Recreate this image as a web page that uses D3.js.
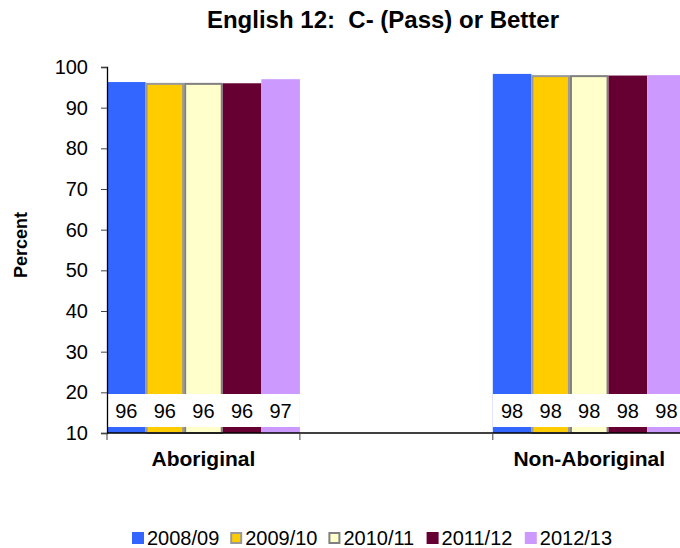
<!DOCTYPE html>
<html>
<head>
<meta charset="utf-8">
<script src="https://cdn.jsdelivr.net/npm/d3@7"></script>
<style>
  html, body { margin: 0; padding: 0; background: #fff; }
  svg { display: block; font-family: Arial, "Liberation Sans", sans-serif; }
</style>
</head>
<body>
<svg id="chart" width="680" height="548"></svg>
<script>
const categories = ["Aboriginal", "Non-Aboriginal"];
const seriesNames = ["2008/09", "2009/10", "2010/11", "2011/12", "2012/13"];
const aboriginalValues = [96.3, 96.1, 96.1, 96.0, 97.0];
const nonAboriginalValues = [98.3, 98.0, 98.0, 97.9, 98.0];
const valueLabels = [["96", "96", "96", "96", "97"], ["98", "98", "98", "98", "98"]];
const yTicks = [10, 20, 30, 40, 50, 60, 70, 80, 90, 100];
const colors = ["#3366FF", "#FFCC00", "#FFFFCC", "#660033", "#CC99FF"];
const strokes = [null, "#999999", "#808080", null, null];

const svg = d3.select("#chart");
const W = 680, H = 548;
const mLeft = 107, mTop = 67, mBottom = 433;

const y = d3.scaleLinear().domain([10, 100]).range([mBottom, mTop]);
const x0 = d3.scaleBand().domain(categories).range([mLeft, 685.7]).paddingInner(0.5).paddingOuter(0);
const x1 = d3.scaleBand().domain(seriesNames).range([0, x0.bandwidth()]).padding(0);

const data = categories.map((c, i) => ({
  cat: c,
  vals: (i === 0 ? aboriginalValues : nonAboriginalValues).map((v, j) => ({ s: seriesNames[j], v, label: valueLabels[i][j], j }))
}));

// Title
svg.append("text")
  .attr("x", 383).attr("y", 28)
  .attr("text-anchor", "middle")
  .style("white-space", "pre")
  .attr("xml:space", "preserve")
  .attr("font-weight", "bold").attr("font-size", 24)
  .text("English 12:  C- (Pass) or Better");

// Bars
const groups = svg.append("g").selectAll("g").data(data).join("g")
  .attr("transform", d => `translate(${x0(d.cat)},0)`);

groups.selectAll("rect.bar").data(d => d.vals).join("rect")
  .attr("class", "bar")
  .attr("x", d => x1(d.s) + (strokes[d.j] ? 1 : 0))
  .attr("y", d => y(d.v) + (strokes[d.j] ? 1 : 0))
  .attr("width", d => x1.bandwidth() - (strokes[d.j] ? 2 : 0))
  .attr("height", d => y(10) - y(d.v) - (strokes[d.j] ? 1 : 0))
  .attr("fill", d => colors[d.j])
  .attr("stroke", d => strokes[d.j] || "none")
  .attr("stroke-width", 2);

// Label band (white boxes) and value labels
groups.append("rect")
  .attr("x", 0).attr("y", y(10) - 39)
  .attr("width", x0.bandwidth()).attr("height", 33)
  .attr("fill", "#fff");

groups.selectAll("text.val").data(d => d.vals).join("text")
  .attr("class", "val")
  .attr("x", d => x1(d.s) + x1.bandwidth() / 2)
  .attr("y", y(10) - 15)
  .attr("text-anchor", "middle")
  .attr("font-size", 20)
  .attr("fill", "#000")
  .text(d => d.label);

// Y axis
const yAxis = d3.axisLeft(y).tickValues(yTicks).tickSize(6).tickPadding(13);
const gy = svg.append("g").attr("transform", `translate(${mLeft},0)`).call(yAxis);
gy.select(".domain").attr("stroke", "#000").attr("stroke-width", 1.3);
gy.selectAll(".tick line").attr("stroke", "#444");
gy.selectAll(".tick text").attr("font-size", 20).attr("fill", "#000").attr("font-family", "Arial, 'Liberation Sans', sans-serif");

// X axis line
svg.append("line")
  .attr("x1", mLeft).attr("x2", W)
  .attr("y1", mBottom).attr("y2", mBottom)
  .attr("stroke", "#000").attr("stroke-width", 1.3);

const edges = [];
categories.forEach(c => { edges.push(x0(c)); edges.push(x0(c) + x0.bandwidth()); });
svg.append("g").selectAll("line").data(edges.filter(e => e <= W)).join("line")
  .attr("x1", d => d).attr("x2", d => d)
  .attr("y1", mBottom).attr("y2", mBottom + 7)
  .attr("stroke", "#444");

// Category labels
svg.append("g").selectAll("text").data(categories).join("text")
  .attr("x", d => x0(d) + x0.bandwidth() / 2)
  .attr("y", 466)
  .attr("text-anchor", "middle")
  .attr("font-weight", "bold").attr("font-size", 21)
  .text(d => d);

// Y axis title
svg.append("text")
  .attr("transform", "translate(27,245) rotate(-90)")
  .attr("text-anchor", "middle")
  .attr("font-weight", "bold").attr("font-size", 18)
  .text("Percent");

// Legend
const legend = svg.append("g").attr("transform", "translate(132,532)");
const items = legend.selectAll("g").data(seriesNames).join("g")
  .attr("transform", (d, i) => `translate(${i * 98.2},0)`);
items.append("rect")
  .attr("x", (d, i) => strokes[i] ? 1 : 0)
  .attr("y", (d, i) => strokes[i] ? 1 : 0)
  .attr("width", (d, i) => strokes[i] ? 10 : 12)
  .attr("height", (d, i) => strokes[i] ? 10 : 12)
  .attr("fill", (d, i) => colors[i])
  .attr("stroke", (d, i) => strokes[i] || "none")
  .attr("stroke-width", 2);
items.append("text")
  .attr("x", 15).attr("y", 13)
  .attr("font-size", 20)
  .text(d => d);
</script>
</body>
</html>
